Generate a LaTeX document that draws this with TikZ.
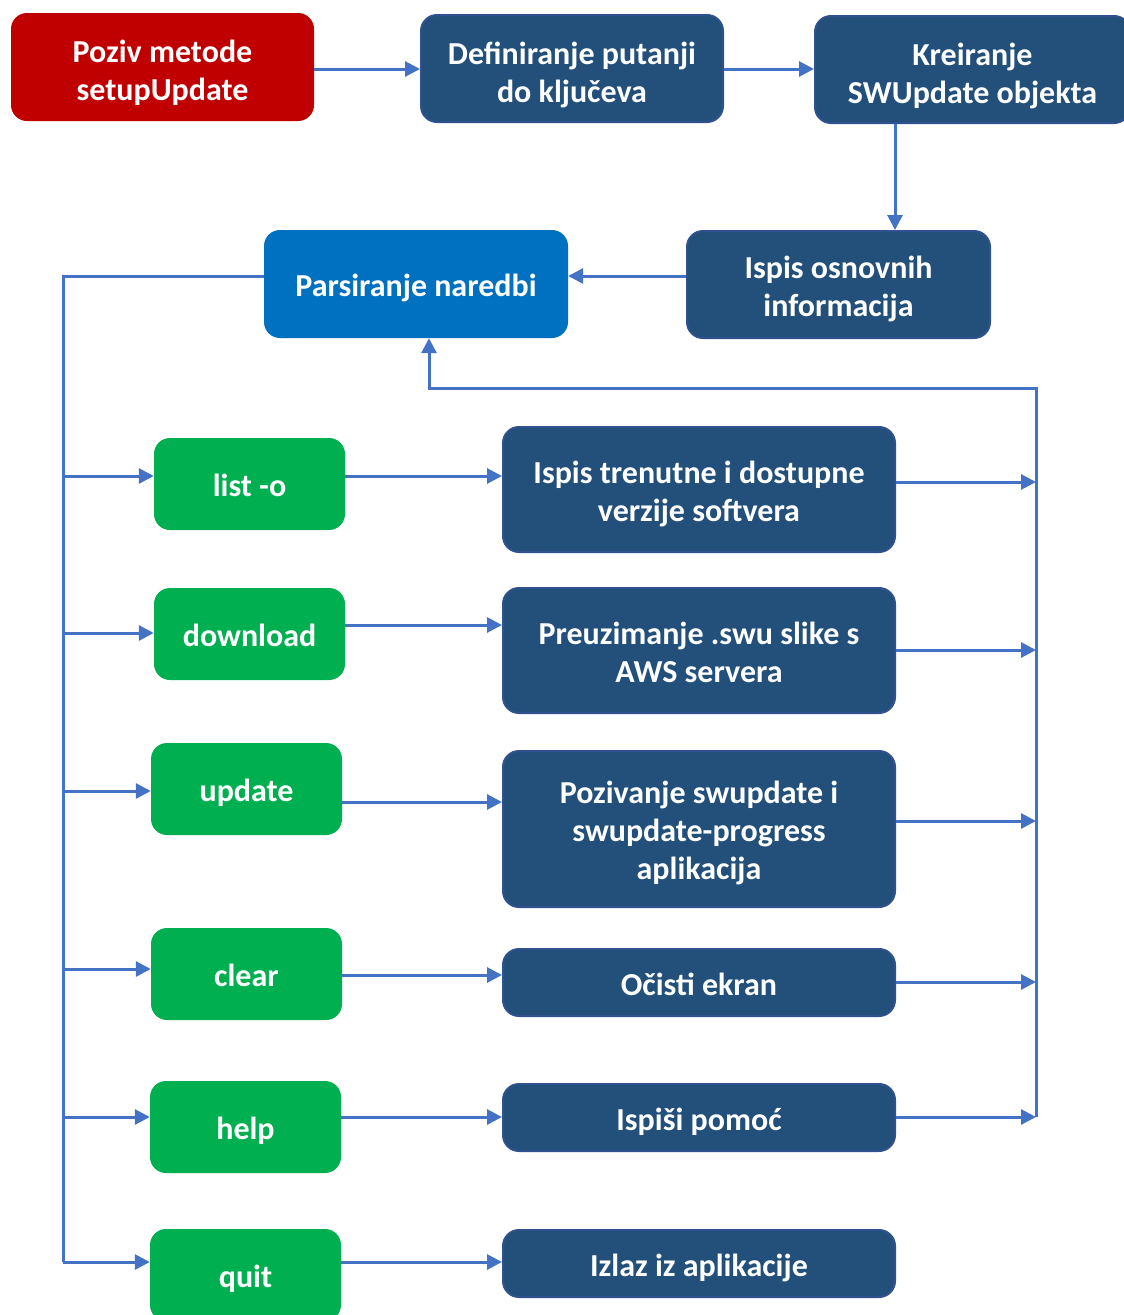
\documentclass[tikz,border=0pt]{standalone}
\usepackage{fontspec}
\setmainfont{Carlito}
\usetikzlibrary{arrows.meta}
\definecolor{lineblue}{HTML}{4472C4}
\definecolor{darkbox}{HTML}{22507A}
\definecolor{darkedge}{HTML}{2F528F}
\definecolor{redbox}{HTML}{C00000}
\definecolor{greenbox}{HTML}{00B050}
\definecolor{parsbox}{HTML}{0070C0}
\begin{document}
\begin{tikzpicture}[x=1pt,y=-1pt,
  box/.style={rounded corners=16pt, align=center, text=white, inner sep=0pt,
    font=\bfseries\fontsize{32}{38}\selectfont, text depth=8pt},
  one/.style={text height=33pt},
  two/.style={text height=71pt},
  twotop/.style={text height=75pt},
  three/.style={text height=108pt},
  dbox/.style={box, fill=darkbox, draw=darkedge, line width=2pt},
  rbox/.style={box, fill=redbox},
  gbox/.style={box, one, fill=greenbox, minimum width=191pt, minimum height=92pt},
  pbox/.style={box, fill=parsbox},
  wide/.style={dbox, minimum width=392pt},
  link/.style={draw=lineblue, line width=3pt},
  conn/.style={link, -{Triangle[length=15pt,width=15pt]}}]
\useasboundingbox (0,0) rectangle (1124,1315);
\clip (0,0) rectangle (1124,1315);

% top row
\node[rbox, twotop, minimum width=303pt, minimum height=108pt] (poziv) at (162.5,67) {Poziv metode\\setupUpdate};
\node[dbox, twotop, minimum width=302pt, minimum height=107pt] (def) at (572,68.5) {Definiranje putanji\\do ključeva};
\node[dbox, twotop, minimum width=315pt, minimum height=107pt] (kre) at (972.5,69.5) {Kreiranje\\SWUpdate objekta};
\node[dbox, two, minimum width=303pt, minimum height=107pt] (osn) at (838.5,284.5) {Ispis osnovnih\\informacija};
\node[pbox, one, minimum width=304pt, minimum height=108pt] (pars) at (416,284) {Parsiranje naredbi};

% command boxes
\node[gbox] (list) at (249.5,484) {list -o};
\node[gbox] (down) at (249.5,634) {download};
\node[gbox] (upd) at (246.5,789) {update};
\node[gbox] (clr) at (246.5,974) {clear};
\node[gbox] (help) at (245.5,1127) {help};
\node[gbox] (quit) at (245.5,1275) {quit};

% action boxes
\node[wide, two, minimum height=125pt] (r1) at (699,489.5) {Ispis trenutne i dostupne\\verzije softvera};
\node[wide, two, minimum height=125pt] (r2) at (699,650.5) {Preuzimanje .swu slike s\\AWS servera};
\node[wide, three, minimum height=156pt] (r3) at (699,829) {Pozivanje swupdate i\\swupdate-progress\\aplikacija};
\node[wide, one, minimum height=67pt] (r4) at (699,982.5) {Očisti ekran};
\node[wide, one, minimum height=67pt] (r5) at (699,1117.5) {Ispiši pomoć};
\node[wide, one, minimum height=67pt] (r6) at (699,1263.5) {Izlaz iz aplikacije};

\coordinate (tk) at (63,276);
\coordinate (fb) at (1036,388);
\coordinate (fbl) at (429,388);

% top flow
\draw[conn] (poziv.east |- 0,69) -- (def.west |- 0,69);
\draw[conn] (def.east |- 0,69) -- (kre.west |- 0,69);
\draw[conn] (kre.south -| 895,0) -- (osn.north -| 895,0);
\draw[conn] (osn.west |- 0,276) -- (pars.east |- 0,276);

% trunk
\draw[link] (pars.west |- tk) -- (tk) -- (tk |- 0,1262);
\draw[conn] (tk |- 0,476) -- (list.west |- 0,476);
\draw[conn] (tk |- 0,633) -- (down.west |- 0,633);
\draw[conn] (tk |- 0,791) -- (upd.west |- 0,791);
\draw[conn] (tk |- 0,969) -- (clr.west |- 0,969);
\draw[conn] (tk |- 0,1117) -- (help.west |- 0,1117);
\draw[conn] (tk |- 0,1262) -- (quit.west |- 0,1262);

% command -> action
\draw[conn] (list.east |- 0,476) -- (r1.west |- 0,476);
\draw[conn] (down.east |- 0,625) -- (r2.west |- 0,625);
\draw[conn] (upd.east |- 0,802) -- (r3.west |- 0,802);
\draw[conn] (clr.east |- 0,975) -- (r4.west |- 0,975);
\draw[conn] (help.east |- 0,1117) -- (r5.west |- 0,1117);
\draw[conn] (quit.east |- 0,1262) -- (r6.west |- 0,1262);

% action -> feedback
\draw[conn] (r1.east |- 0,482) -- (fb |- 0,482);
\draw[conn] (r2.east |- 0,650) -- (fb |- 0,650);
\draw[conn] (r3.east |- 0,821) -- (fb |- 0,821);
\draw[conn] (r4.east |- 0,982) -- (fb |- 0,982);
\draw[conn] (r5.east |- 0,1117) -- (fb |- 0,1117);

% feedback loop
\draw[conn] (fb |- 0,1117) -- (fb) -- (fbl) -- (pars.south -| fbl);
\end{tikzpicture}
\end{document}
